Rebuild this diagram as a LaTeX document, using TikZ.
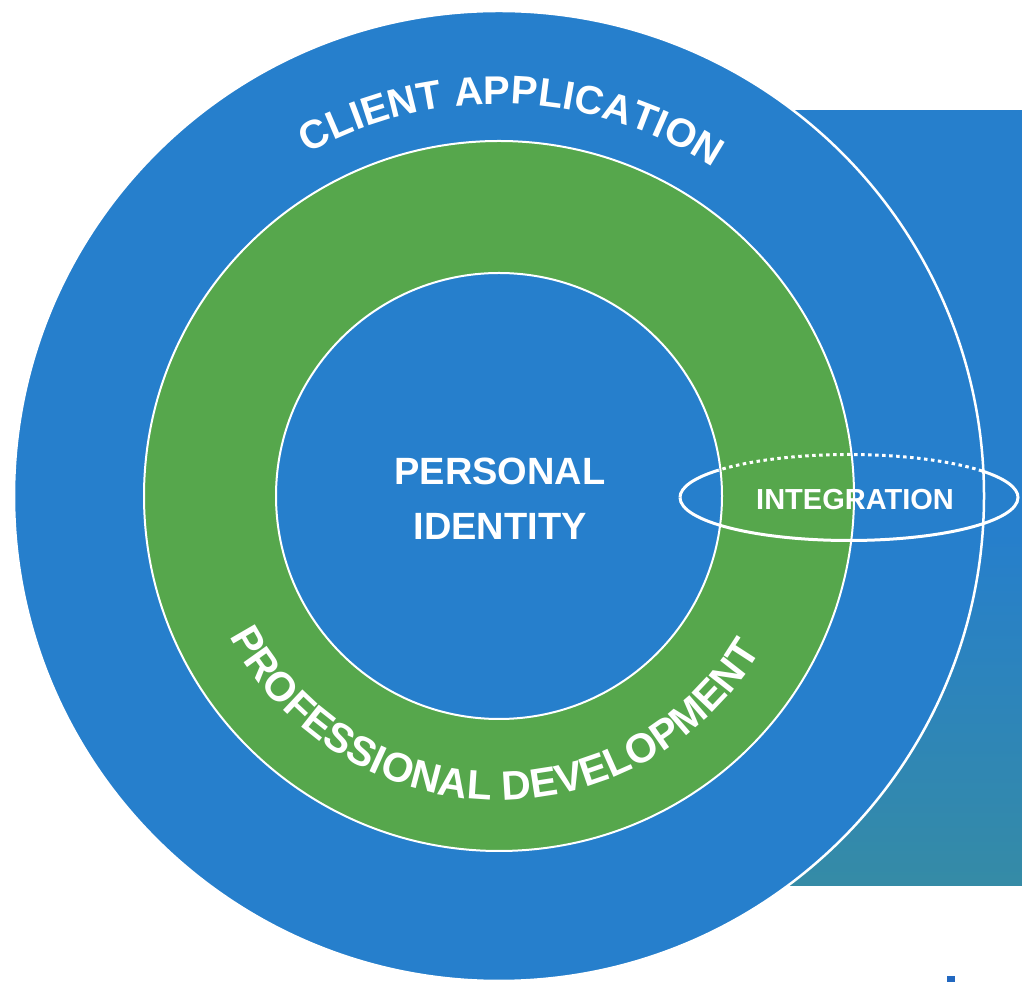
\documentclass[tikz,border=0pt]{standalone}
\usepackage{fontspec}
\setmainfont{Liberation Sans}
\usetikzlibrary{calc,decorations.text}
\definecolor{cblue}{RGB}{38,127,204}
\definecolor{cgreen}{RGB}{86,167,76}
\definecolor{cteal}{RGB}{53,139,166}
\definecolor{cdark}{RGB}{34,104,192}

% #1 start angle, #2 end angle, #3 radius, #4 font size, #5 text
\newcommand\MyArcText[5]{%
  \path[decorate,decoration={text along path,text align=center,text color=white,
    text={|\bfseries\fontsize{#4}{#4}\selectfont|#5}}]
    ($(O)+(#1:#3)$) arc[start angle=#1,end angle=#2,radius=#3];
}

\tikzset{
  ringline/.style={draw=white,line width=2pt},
  eline/.style={draw=white,line width=3pt},
  label/.style={text=white,align=center}
}

\begin{document}
\begin{tikzpicture}[x=1pt,y=1pt]
\useasboundingbox (0,0) rectangle (1022,982);
\coordinate (O) at (499,486);
\coordinate (E) at (849,484.5);

% right panel
\fill[cblue] (700,96) rectangle (1022,872);
\shade[top color=cblue,bottom color=cteal] (700,96) rectangle (1022,450);
% small fragment at bottom
\fill[cdark] (947,0) rectangle (955,6);

% circles
\filldraw[fill=cblue,draw=white,line width=2.5pt] (O) circle[radius=485pt];
\filldraw[fill=cgreen,ringline] (O) circle[radius=355pt];
\filldraw[fill=cblue,ringline] (O) circle[radius=223pt];

% integration ellipse
\draw[eline] ($(E)+(-169,0)$) arc[start angle=180,end angle=360,x radius=169pt,y radius=43pt]
  arc[start angle=0,end angle=38,x radius=169pt,y radius=43pt];
\draw[eline,dash pattern=on 3.5pt off 3.5pt] ($(E)+(38:169pt and 43pt)$)
  arc[start angle=38,end angle=140.5,x radius=169pt,y radius=43pt];
\draw[eline] ($(E)+(140.5:169pt and 43pt)$)
  arc[start angle=140.5,end angle=180,x radius=169pt,y radius=43pt];

% texts
\MyArcText{141}{35}{392pt}{40}{CLIENT APPLICATION}
\MyArcText{194}{343}{304pt}{41}{PROFESSIONAL DEVELOPMENT}
\node[label,font=\bfseries\fontsize{38}{55}\selectfont] (personal) at (500,483) {PERSONAL\\IDENTITY};
\node[label,font=\bfseries\fontsize{29}{29}\selectfont] (integration) at (855,482) {INTEGRATION};
\end{tikzpicture}
\end{document}
